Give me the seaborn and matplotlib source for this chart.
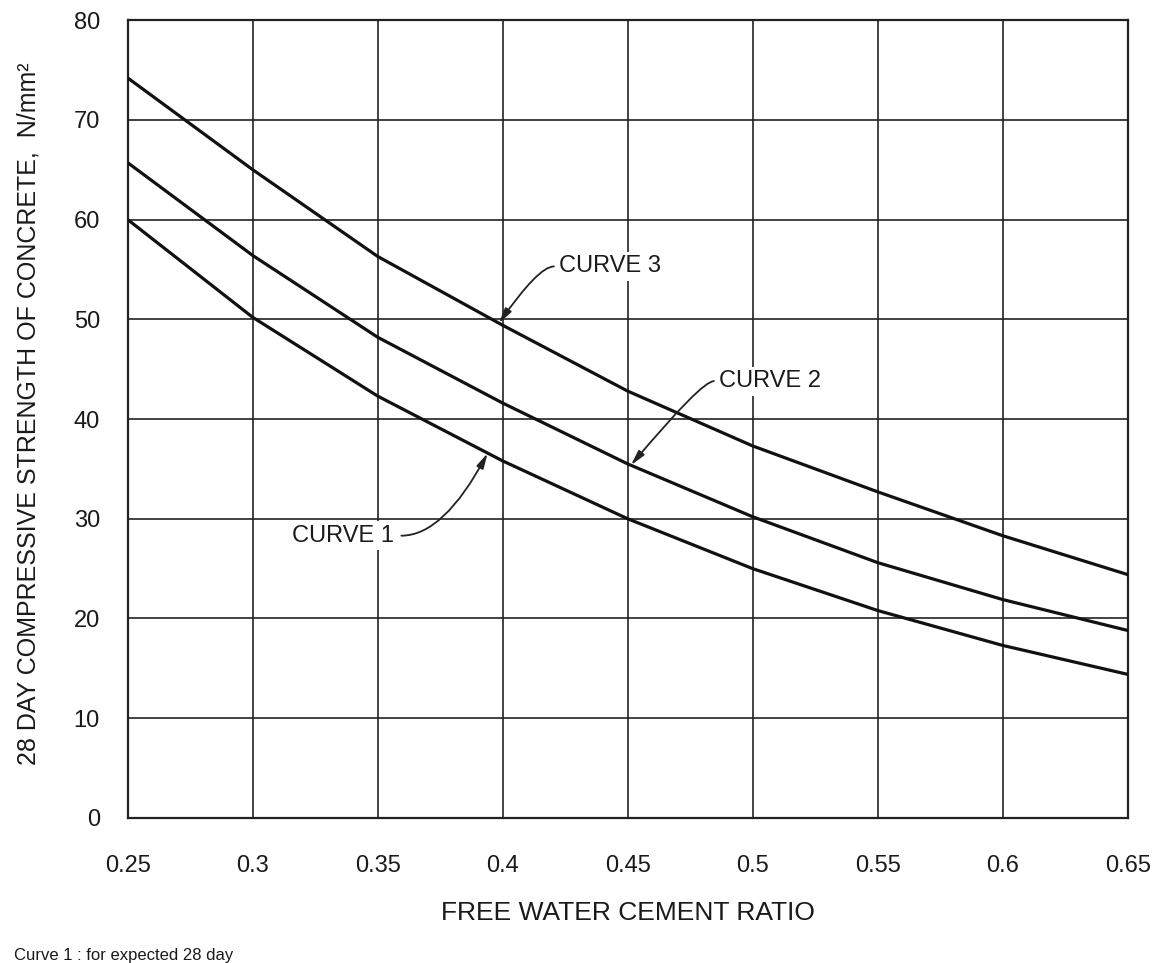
import numpy as np
import pandas as pd
import matplotlib
matplotlib.use("Agg")
import matplotlib.pyplot as plt
import seaborn as sns

# ---- data ----
wc_ratio = [0.25, 0.30, 0.35, 0.40, 0.45, 0.50, 0.55, 0.60, 0.65]
curve_1 = [60.0, 50.2, 42.3, 35.8, 30.0, 25.0, 20.8, 17.3, 14.4]
curve_2 = [65.7, 56.4, 48.2, 41.6, 35.5, 30.2, 25.6, 21.9, 18.8]
curve_3 = [74.2, 65.0, 56.3, 49.4, 42.8, 37.3, 32.7, 28.3, 24.4]
curve_names = ["CURVE 1", "CURVE 2", "CURVE 3"]

x_ticks = [0.25, 0.30, 0.35, 0.40, 0.45, 0.50, 0.55, 0.60, 0.65]
x_tick_labels = ["0.25", "0.3", "0.35", "0.4", "0.45", "0.5", "0.55", "0.6", "0.65"]
y_ticks = [0, 10, 20, 30, 40, 50, 60, 70, 80]
y_tick_labels = ["0", "10", "20", "30", "40", "50", "60", "70", "80"]

x_label = "FREE WATER CEMENT RATIO"
y_label = "28 DAY COMPRESSIVE STRENGTH OF CONCRETE,  N/mm\u00b2"
footnote = "Curve 1 : for expected 28 day"

df = pd.DataFrame({
    "ratio": wc_ratio * 3,
    "strength": curve_1 + curve_2 + curve_3,
    "curve": [curve_names[0]] * len(wc_ratio)
             + [curve_names[1]] * len(wc_ratio)
             + [curve_names[2]] * len(wc_ratio),
})

sns.set_style("white")
plt.rcParams["font.family"] = ["Liberation Sans", "DejaVu Sans"]

fig = plt.figure(figsize=(11.71, 9.63), dpi=100)
ax = fig.add_axes([0.109, 0.1506, 0.854, 0.8286])

sns.lineplot(data=df, x="ratio", y="strength", hue="curve",
             palette=["#111111"] * 3, linewidth=2.3, legend=False, ax=ax,
             zorder=3)

ax.set_xlim(0.25, 0.65)
ax.set_ylim(0, 80)
ax.set_xticks(x_ticks)
ax.set_xticklabels(x_tick_labels)
ax.set_yticks(y_ticks)
ax.set_yticklabels(y_tick_labels)
ax.tick_params(axis="x", length=0, pad=27, labelsize=17, colors="#1a1a1a")
ax.tick_params(axis="y", length=0, pad=20, labelsize=17, colors="#1a1a1a")
ax.grid(True, color="#222222", linewidth=1.2)
ax.set_axisbelow(True)
for s in ax.spines.values():
    s.set_visible(True)
    s.set_color("#222222")
    s.set_linewidth(1.6)
ax.set_xlabel("")
ax.set_ylabel("")

# ---- curve annotations ----
def ann(text, text_xy, start_xy, tip_x, series, angA, angB, ha):
    tip_y = float(np.interp(tip_x, wc_ratio, series))
    ax.text(text_xy[0], text_xy[1], text, ha=ha, va="center", fontsize=17,
            color="#1a1a1a", zorder=5,
            bbox=dict(boxstyle="square,pad=0.15", fc="white", ec="none"))
    ax.annotate("", xy=(tip_x, tip_y), xytext=start_xy,
                arrowprops=dict(arrowstyle="-|>,head_length=0.9,head_width=0.22",
                                color="#222222", lw=1.3, shrinkA=0, shrinkB=0,
                                connectionstyle=f"angle3,angleA={angA},angleB={angB}"),
                zorder=6)

ann("CURVE 3", (0.4224, 55.3), (0.4205, 55.3), 0.3985, curve_3, 180, 55, "left")
ann("CURVE 2", (0.4864, 43.8), (0.4845, 43.8), 0.4513, curve_2, 180, 50, "left")
ann("CURVE 1", (0.3565, 28.3), (0.3595, 28.3), 0.394, curve_1, 0, 62, "right")

fig.text(0.536, 0.052, x_label, ha="center", va="center", fontsize=19,
         color="#1a1a1a")
fig.text(0.024, 0.57, y_label, rotation=90, ha="center", va="center",
         fontsize=18, color="#1a1a1a")
fig.text(0.012, 0.008, footnote, ha="left", va="center", fontsize=12,
         color="#1a1a1a")

fig.savefig("out.png", dpi=100, facecolor="white")
